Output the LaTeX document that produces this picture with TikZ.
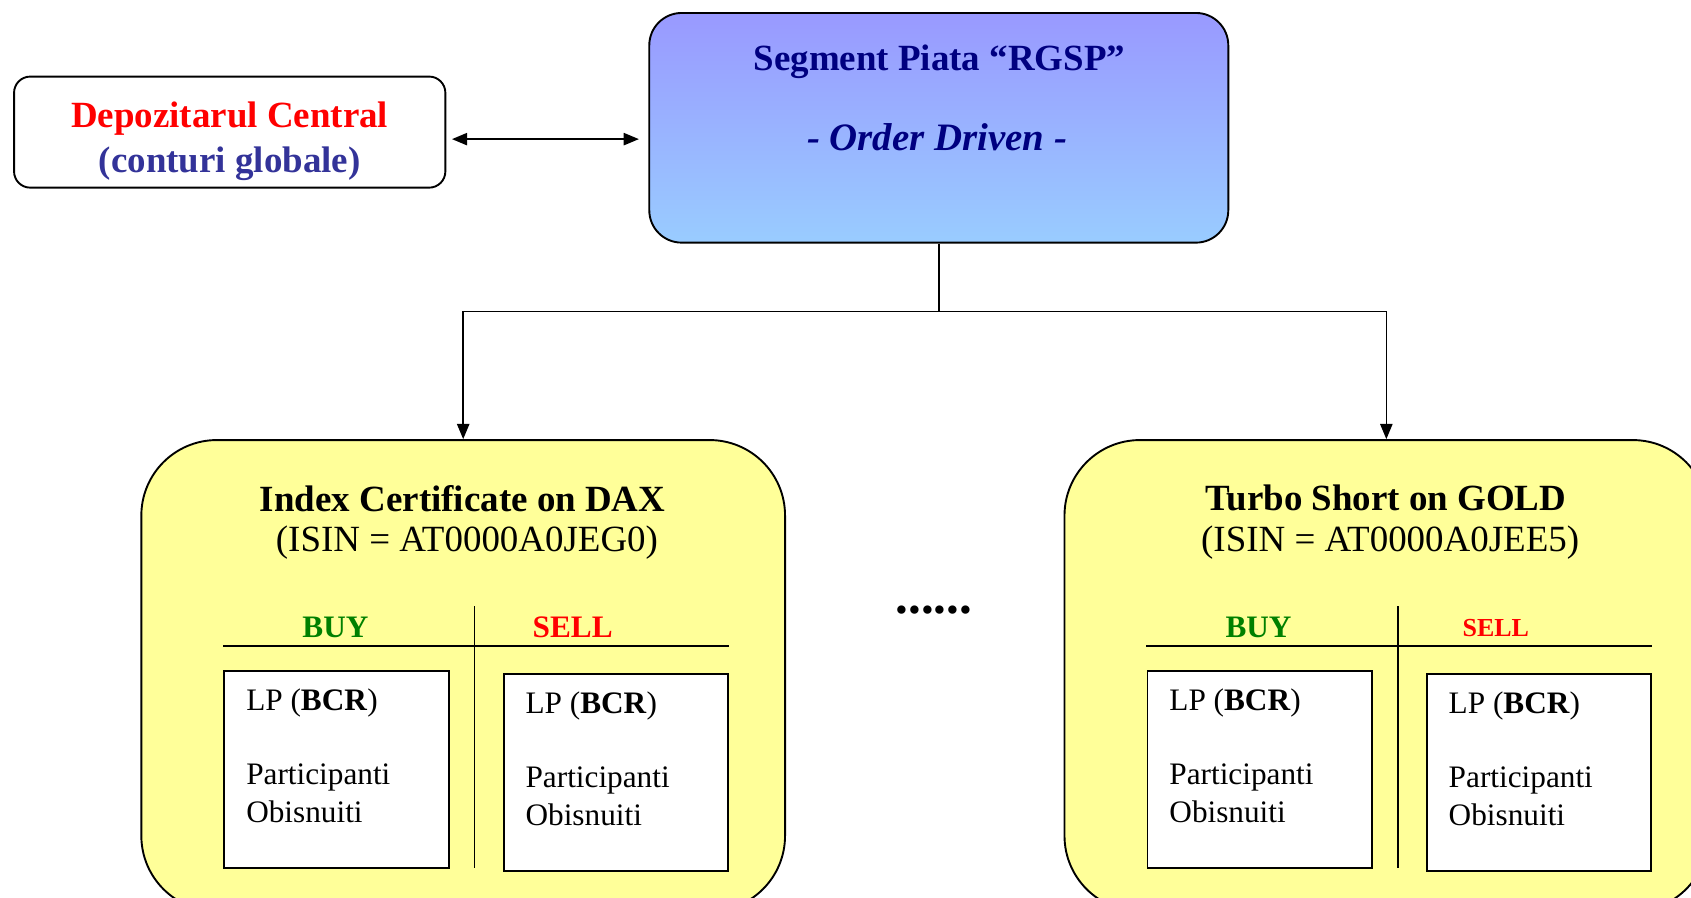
\documentclass[tikz,border=0pt]{standalone}
\usepackage{fontspec}
\setmainfont{Liberation Serif}
\usetikzlibrary{arrows.meta}
\newcommand{\tsize}{\fontsize{19.5}{24}\selectfont}
\newcommand{\bsize}{\fontsize{16.5}{19.8}\selectfont}
\newcommand{\ssize}{\fontsize{13.7}{16}\selectfont}
\definecolor{N1}{RGB}{0,0,128}
\definecolor{N2}{RGB}{51,51,153}
\definecolor{B1}{RGB}{153,153,255}
\definecolor{B2}{RGB}{153,204,255}
\definecolor{Y1}{RGB}{255,255,153}
\definecolor{G1}{RGB}{0,128,0}
\definecolor{R1}{RGB}{255,0,0}

\begin{document}
\begin{tikzpicture}[x=0.02cm, y=-0.02cm,
    box/.style={draw, line width=1pt, inner sep=0pt},
    tip/.style={-{Triangle[length=8pt,width=6.5pt]}, line width=0.75pt}]
      \clip (0,0) rectangle (1568,832);
      % top row
      \node[box, fill=white, rounded corners=0.3cm, minimum width=8cm, minimum height=2.06cm] (dep) at (213,122.5) {};
      \node[align=center, font=\fontsize{19.5}{23.8}\selectfont\bfseries] (depname) at (213,131)
            {\textcolor{R1}{Depozitarul Central}\\\textcolor{N2}{(conturi globale)}};
      \node[box, top color=B1, bottom color=B2, rounded corners=0.6cm,
            minimum width=10.74cm, minimum height=4.26cm] (seg) at (870.5,118.5) {};
      \node[N1, font=\tsize\bfseries] (segname) at (871,57) {Segment Piata ``RGSP''};
      \node[N1, font=\fontsize{20.5}{24}\selectfont\bfseries\itshape] (segtype) at (869,127) {- Order Driven -};
      \draw[tip, {Triangle[length=8pt,width=6.5pt]}-{Triangle[length=8pt,width=6.5pt]},
            shorten <=3pt, shorten >=5pt] (dep.east |- 0,129) -- (seg.west |- 0,129);
      % instruments
      \foreach \dx/\id/\head/\isin/\sellsz in
          {0/L/Index Certificate on DAX/AT0000A0JEG0/\bsize,
           856/R/Turbo Short on GOLD/AT0000A0JEE5/\ssize}{
        \begin{scope}[shift={(\dx,0)}]
          \node[box, fill=Y1, rounded corners=1.4cm, minimum width=11.94cm,
                minimum height=8.74cm] (\id box) at (429.5,626.5) {};
          \node[font=\tsize\bfseries] (\id head) at (429,462) {\head};
          \node[font=\tsize] (\id isin) at (433,503) {(ISIN = \isin)};
          \node[G1, font=\bsize\bfseries] (\id buy) at (311,582) {BUY};
          \node[R1, font=\sellsz\bfseries] at (531,582) {SELL};
          \draw[line width=1pt] (207,599) -- (676,599);
          \draw[line width=1pt] (440,562) -- (440,805);
          \node[box, fill=white, minimum width=4.16cm, minimum height=3.66cm] (\id bid) at (312,713.5) {};
          \node[box, fill=white, minimum width=4.16cm, minimum height=3.66cm] (\id ask) at (571,716.5) {};
          \node[anchor=west, font=\bsize, inner sep=0pt] at (228,652) {LP (\textbf{BCR})};
          \node[anchor=west, font=\bsize, inner sep=0pt, align=left] at (228,735.5) {Participanti\\Obisnuiti};
          \node[anchor=west, font=\bsize, inner sep=0pt] at (487,655) {LP (\textbf{BCR})};
          \node[anchor=west, font=\bsize, inner sep=0pt, align=left] at (487,738.5) {Participanti\\Obisnuiti};
        \end{scope}
      }
      \node[font=\fontsize{27}{27}\selectfont\bfseries] (more) at (866,566) {......};
      % tree
      \draw[tip] (seg.south) -- ++(0,63) -| (Lbox.north);
      \draw[tip] (seg.south) -- ++(0,63) -| (Rbox.north);
    \end{tikzpicture}
\end{document}
